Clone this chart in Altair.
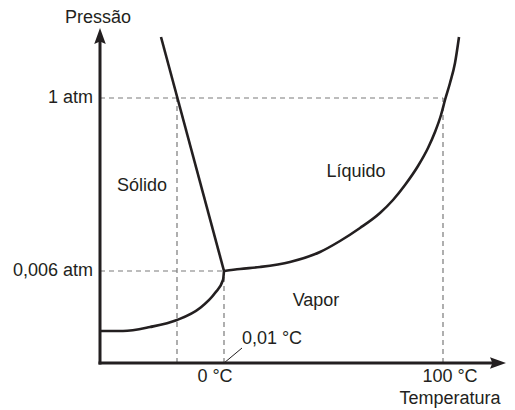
import altair as alt
import pandas as pd

# Schematic coordinates (arbitrary units: x = temperature, y = pressure)
X_MAX = 407
Y_MAX = 335

# Key reference positions
T_ZERO = 77        # 0 °C
T_TRIPLE = 124     # 0,01 °C (triple point)
T_BOIL = 343       # 100 °C
P_ATM = 265        # 1 atm
P_TRIPLE = 92      # 0,006 atm

# Curves
sub_x = [0, 23, 50, 77, 100, 115, 123, 124]
sub_y = [32, 32, 36, 43, 55, 70, 83, 92]
fus_x = [124, 61]
fus_y = [92, 326]
vap_x = [124, 140, 160, 190, 220, 240, 260, 280, 293, 305, 318, 328, 335, 341, 345, 350, 355, 359]
vap_y = [92, 94, 96, 101, 111, 122, 135, 150, 163, 178, 197, 215, 231, 248, 263, 280, 300, 326]

rows = []
for name, xs_, ys_ in [("sub", sub_x, sub_y), ("fus", fus_x, fus_y), ("vap", vap_x, vap_y)]:
    for i, (a, b) in enumerate(zip(xs_, ys_)):
        rows.append({"curve": name, "i": i, "x": a, "y": b})
curves = pd.DataFrame(rows)

dashed = pd.DataFrame({
    "x": [0, T_ZERO, T_BOIL, 0, T_TRIPLE],
    "x2": [T_BOIL, T_ZERO, T_BOIL, T_TRIPLE, T_TRIPLE],
    "y": [P_ATM, 0, 0, P_TRIPLE, 0],
    "y2": [P_ATM, P_ATM, P_ATM, P_TRIPLE, P_TRIPLE],
})

axes_df = pd.DataFrame({
    "x": [0, 0], "x2": [0, 395], "y": [0, 0], "y2": [322, 0],
})

arrows = pd.DataFrame({
    "x": [0, 398], "y": [327, 0], "dir": ["up", "right"],
})

label_text = ["Pressão", "1 atm", "0,006 atm", "0 °C", "100 °C", "Temperatura",
              "0,01 °C", "Sólido", "Líquido", "Vapor"]
label_x = [-2, -7, -7, 115, 350, 350, 172, 42, 256, 216]
label_y = [345, 265, 92, -13.5, -13.5, -36, 24.5, 177, 191.5, 62.5]
label_align = ["center", "right", "right", "center", "center", "center",
               "center", "center", "center", "center"]
labels = pd.DataFrame({"t": label_text, "x": label_x, "y": label_y, "a": label_align})

leader = pd.DataFrame({"x": [T_TRIPLE], "y": [0], "x2": [142], "y2": [15]})

xs = alt.Scale(domain=[0, X_MAX], nice=False, zero=False)
ys = alt.Scale(domain=[0, Y_MAX], nice=False, zero=False)
INK = "#231f20"
FONT = "Liberation Sans"

dash_layer = alt.Chart(dashed).mark_rule(
    color="#7a7a7a", strokeWidth=1.2, strokeDash=[5, 4]
).encode(
    x=alt.X("x:Q", scale=xs, axis=None), x2="x2:Q",
    y=alt.Y("y:Q", scale=ys, axis=None), y2="y2:Q",
)

axis_layer = alt.Chart(axes_df).mark_rule(
    color=INK, strokeWidth=3, strokeCap="square"
).encode(
    x=alt.X("x:Q", scale=xs, axis=None), x2="x2:Q",
    y=alt.Y("y:Q", scale=ys, axis=None), y2="y2:Q",
)

arrow_up = alt.Chart(arrows[arrows["dir"] == "up"]).mark_point(
    shape="M0,-1 L0.72,1 L0,0.7 L-0.72,1 Z", size=256, filled=True,
    color=INK, opacity=1, strokeWidth=0
).encode(x=alt.X("x:Q", scale=xs, axis=None), y=alt.Y("y:Q", scale=ys, axis=None))

arrow_right = alt.Chart(arrows[arrows["dir"] == "right"]).mark_point(
    shape="M1,0 L-1,0.72 L-0.7,0 L-1,-0.72 Z", size=256, filled=True,
    color=INK, opacity=1, strokeWidth=0
).encode(x=alt.X("x:Q", scale=xs, axis=None), y=alt.Y("y:Q", scale=ys, axis=None))

curve_layer = alt.Chart(curves).mark_line(
    color=INK, strokeWidth=2.6, interpolate="monotone"
).encode(
    x=alt.X("x:Q", scale=xs, axis=None),
    y=alt.Y("y:Q", scale=ys, axis=None),
    detail="curve:N", order="i:Q",
)

leader_layer = alt.Chart(leader).mark_rule(color=INK, strokeWidth=1).encode(
    x=alt.X("x:Q", scale=xs, axis=None), x2="x2:Q",
    y=alt.Y("y:Q", scale=ys, axis=None), y2="y2:Q",
)

def text_layer(align):
    return alt.Chart(labels[labels["a"] == align]).mark_text(
        align=align, baseline="middle", font=FONT, fontSize=18, color=INK
    ).encode(
        x=alt.X("x:Q", scale=xs, axis=None),
        y=alt.Y("y:Q", scale=ys, axis=None),
        text="t:N",
    )

chart = alt.layer(
    dash_layer, curve_layer, axis_layer, arrow_up, arrow_right, leader_layer,
    text_layer("center"), text_layer("right"),
).properties(
    width=X_MAX, height=Y_MAX,
    autosize=alt.AutoSizeParams(type="none"),
    padding={"left": 92, "top": 20, "right": 0, "bottom": 45},
).configure_view(stroke=None)

chart.save("out.html", embed_options={"renderer": "svg", "actions": False})
